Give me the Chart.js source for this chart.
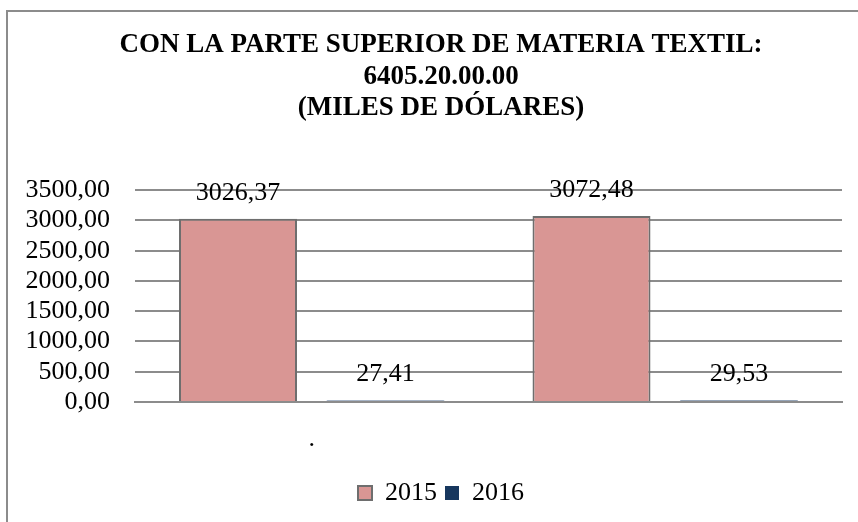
<!DOCTYPE html>
<html>
<head>
<meta charset="utf-8">
<script src="https://cdn.jsdelivr.net/npm/chart.js@4/dist/chart.umd.min.js"></script>
<style>
  html, body { margin: 0; padding: 0; background: #fff; overflow: hidden; }
  #wrap { position: relative; width: 858px; height: 522px; }
  #frame { position: absolute; left: 6px; top: 10px; width: 900px; height: 600px; border: 2px solid #8c8c8c; box-sizing: border-box; }
  #chart { position: absolute; left: 0; top: 0; }
</style>
</head>
<body>
<div id="wrap">
  <div id="frame"></div>
  <canvas id="chart" width="858" height="522"></canvas>
</div>
<script>
// datos del gráfico
const categorias = [".", ""];
const series = ["2015", "2016"];
const valores2015 = [3026.37, 3072.48];
const valores2016 = [27.41, 29.53];
const ticksY = [0, 500, 1000, 1500, 2000, 2500, 3000, 3500];
const titulo = ["CON LA PARTE SUPERIOR DE MATERIA TEXTIL:", "6405.20.00.00", "(MILES DE DÓLARES)"];

const fuente = "'Liberation Serif', 'Times New Roman', serif";

// formato con coma decimal
function formato(v) {
  return v.toFixed(2).replace(".", ",");
}

// etiquetas de datos encima de cada barra
const etiquetas = {
  id: "etiquetas",
  afterDatasetsDraw(chart) {
    const ctx = chart.ctx;
    ctx.save();
    ctx.font = "26px " + fuente;
    ctx.fillStyle = "#000";
    ctx.textAlign = "center";
    ctx.textBaseline = "middle";
    chart.data.datasets.forEach((ds, i) => {
      chart.getDatasetMeta(i).data.forEach((bar, j) => {
        ctx.fillText(formato(ds.data[j]), bar.x, bar.y - 26);
      });
    });
    ctx.restore();
  }
};

// las etiquetas del eje Y sobresalen del margen izquierdo: ampliar su zona de recorte
const ejeAncho = {
  id: "ejeAncho",
  afterLayout(chart) {
    chart.scales.y.left = 0;
  }
};

new Chart(document.getElementById("chart"), {
  type: "bar",
  data: {
    labels: categorias,
    datasets: [
      {
        label: series[0],
        data: valores2015,
        backgroundColor: "#D99694",
        borderColor: "#6e6e6e",
        borderWidth: 2,
        categoryPercentage: 0.8345,
        barPercentage: 0.8
      },
      {
        label: series[1],
        data: valores2016,
        backgroundColor: "#17375E",
        borderColor: "#6f88aa",
        borderWidth: 1,
        categoryPercentage: 0.8345,
        barPercentage: 0.8
      }
    ]
  },
  options: {
    responsive: false,
    animation: false,
    layout: { padding: { left: 40, right: 16, top: 20, bottom: 6 } },
    plugins: {
      title: {
        display: true,
        text: titulo,
        color: "#000",
        font: { family: fuente, size: 27, weight: "bold", lineHeight: 1.15 },
        padding: { top: 10, bottom: 67 }
      },
      legend: {
        position: "bottom",
        labels: {
          color: "#000",
          font: { family: fuente, size: 26 },
          boxWidth: 14,
          boxHeight: 14,
          padding: 8,
          generateLabels(chart) {
            return chart.data.datasets.map((ds, i) => ({
              text: ds.label,
              fillStyle: ds.backgroundColor,
              strokeStyle: i === 0 ? "#6e6e6e" : ds.backgroundColor,
              lineWidth: i === 0 ? 2 : 0,
              datasetIndex: i
            }));
          }
        }
      },
      tooltip: { enabled: false }
    },
    scales: {
      x: {
        grid: { display: false, drawTicks: false },
        border: { display: true, color: "#8c8c8c", width: 2 },
        ticks: { color: "#000", font: { family: fuente, size: 26 }, padding: 22 },
        afterFit(scale) { scale.height = 70; }
      },
      y: {
        min: 0,
        max: 3500,
        afterBuildTicks(scale) { scale.ticks = ticksY.map(v => ({ value: v })); },
        grid: { color: "#8c8c8c", lineWidth: 2, drawTicks: false },
        border: { display: false },
        ticks: {
          color: "#000",
          font: { family: fuente, size: 26 },
          padding: 25,
          autoSkip: false,
          callback: v => formato(v)
        },
        afterFit(scale) { scale.width = 95; }
      }
    }
  },
  plugins: [etiquetas, ejeAncho]
});
</script>
</body>
</html>
